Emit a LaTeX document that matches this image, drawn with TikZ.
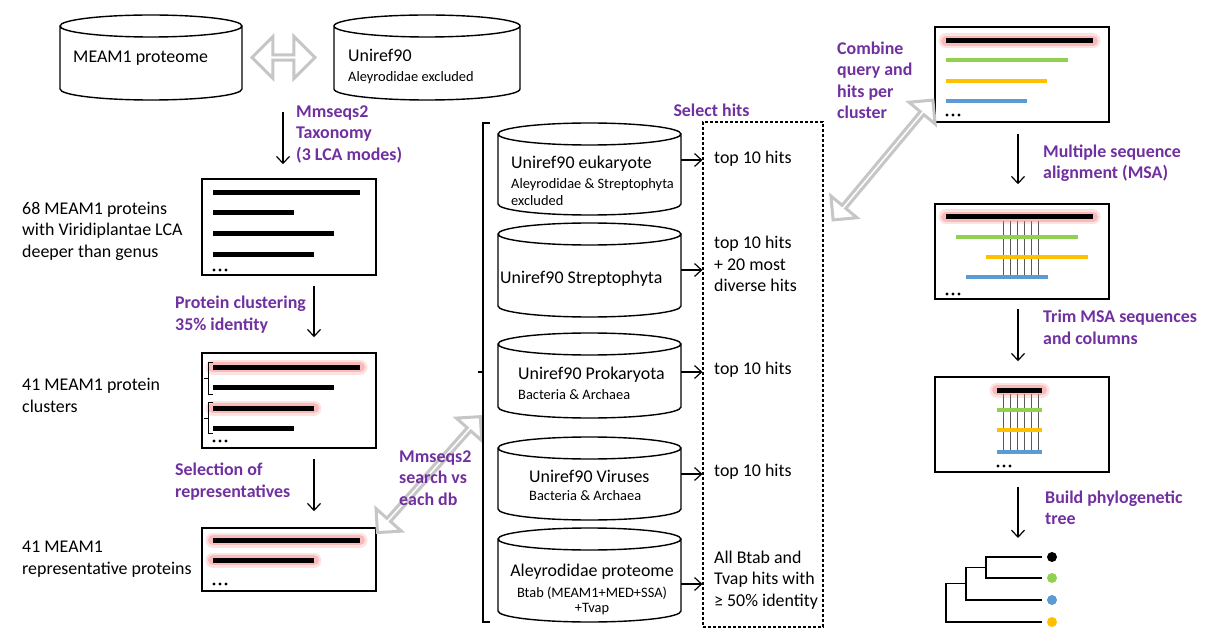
\documentclass[tikz,border=0pt]{standalone}
\usepackage{fontspec}
\setmainfont{Carlito}
\usetikzlibrary{arrows.meta,shapes.arrows,calc}

\definecolor{lblpurple}{RGB}{112,48,160}
\definecolor{seqgreen}{RGB}{146,208,80}
\definecolor{seqyellow}{RGB}{255,192,0}
\definecolor{seqblue}{RGB}{91,155,213}
\definecolor{glow}{RGB}{245,110,110}

\newcommand\mainsz{\fontsize{17.9}{21.5}\selectfont}
\newcommand\subsz{\fontsize{14.4}{17}\selectfont}

% database drum: name, cx, cy, width, height
\newcommand\dbcyl[5]{%
  \node[minimum width=#4, minimum height=#5, inner sep=0] (#1) at (#2,#3) {};
  \draw[dbline] (#2,#3-#5/2+11) ellipse[x radius=#4/2, y radius=11]
    (#2-#4/2,#3-#5/2+11) -- (#2-#4/2,#3+#5/2-11)
    arc[start angle=180, end angle=0, x radius=#4/2, y radius=11]
    -- (#2+#4/2,#3-#5/2+11);
}
\newcommand\moredots[2]{\foreach \i in {0,1,2} \fill (#1+6*\i,#2) circle[radius=1.6];}

\begin{document}
\begin{tikzpicture}[x=1pt,y=-1pt,
    dbline/.style={line width=1.4},
    listbox/.style={draw, line width=1.5, minimum width=174, inner sep=0},
    hitbox/.style={draw, line width=1.2, dash pattern=on 3pt off 2pt, inner sep=0},
    txt/.style={font=\mainsz, align=left, anchor=west, inner sep=0},
    lbl/.style={font=\mainsz\bfseries, text=lblpurple, align=left, anchor=west, inner sep=0},
    flow/.style={line width=1.2, -{Straight Barb[length=7pt,width=13pt]}},
    garrow/.style={double arrow, draw=gray!45, line width=3, fill=white, inner sep=0,
      double arrow tip angle=90, sloped},
    bar/.style={line width=5},
    cbar/.style={line width=4},
    hlbar/.style={bar,
      preaction={draw=glow, opacity=.2, line width=15, line cap=round},
      preaction={draw=glow, opacity=.35, line width=10, line cap=round}},
    gapline/.style={line width=1, gray!70!black},
    treeline/.style={line width=1.2},
    leaf/.style={circle, minimum size=10, inner sep=0}]
\useasboundingbox (0,0) rectangle (1207,628);

% input databases
\dbcyl{meam}{151}{57.5}{182}{85}
\dbcyl{uniall}{427}{57.5}{186}{85}
\node[txt] (meam-t) at (73,58) {MEAM1 proteome};
\node[txt] (uniall-t) at (348,67) {Uniref90\\[-1.5pt]\subsz Aleyrodidae excluded};
\path (meam.east) -- (uniall.west) node[garrow, pos=.45, minimum height=63, minimum width=42,
  double arrow head extend=11] (cmp) {};

% left column
\node[listbox, minimum height=96] (box1) at (289,227) {};
\node[listbox, minimum height=95] (box2) at (289,400.5) {};
\node[listbox, minimum height=63] (box3) at (289,559.5) {};

\draw[bar] (213,193) -- (360,193);
\draw[bar] (213,213) -- (294,213);
\draw[bar] (213,234) -- (334,234);
\draw[bar] (213,255) -- (314,255);
\moredots{214}{270}

\draw[hlbar] (213,367) -- (360,367);
\draw[bar] (213,387) -- (334,387);
\draw[hlbar] (213,408) -- (314,408);
\draw[bar] (213,428) -- (294,428);
\moredots{214}{441}
\draw[line width=1] (213,362) -- (208,362) -- (208,394) -- (213,394) (208,378) -- (204,378);
\draw[line width=1] (213,402) -- (208,402) -- (208,433) -- (213,433) (208,418) -- (204,418);

\draw[hlbar] (213,540) -- (360,540);
\draw[hlbar] (213,560) -- (314,560);
\moredots{214}{584}

\node[txt] (n68) at (22,231) {68 MEAM1 proteins\\with Viridiplantae LCA\\deeper than genus};
\node[txt] (n41c) at (22,395.5) {41 MEAM1 protein\\clusters};
\node[txt] (n41r) at (22,559) {41 MEAM1\\representative proteins};

\draw[flow, shorten <=12, shorten >=14] ([xshift=-6]box1.north |- uniall.south) -- ([xshift=-6]box1.north);
\draw[flow, shorten <=10, shorten >=15] ([xshift=25]box1.south) -- ([xshift=25]box2.north);
\draw[flow, shorten <=10, shorten >=16] ([xshift=25]box2.south) -- ([xshift=25]box3.north);

\node[lbl] (taxo) at (296,134) {Mmseqs2\\Taxonomy\\(3 LCA modes)};
\node[lbl] (clust) at (175,314.5) {Protein clustering\\35\% identity};
\node[lbl] (repsel) at (175,481.5) {Selection of\\representatives};

% search databases
\coordinate (srchA) at ([shift={(1,5)}]box3.north east);
\coordinate (srchB) at (480,417);
\path (srchA) -- (srchB) node[garrow, midway, minimum height=155, minimum width=34,
  double arrow head extend=9] (srch) {};
\node[lbl] (srch-t) at (399,478) {Mmseqs2\\search vs\\each db};

\draw[line width=1.3] (490,123) -- (483,123) -- (483,622) -- (490,622) (483,372) -- (478,372);

\dbcyl{euk}{589.5}{169}{183}{92}
\dbcyl{strep}{589.5}{270}{183}{94}
\dbcyl{prok}{589.5}{375.5}{183}{85}
\dbcyl{vir}{589.5}{478.5}{183}{83}
\dbcyl{aley}{589.5}{575}{183}{94}
\node[txt] (euk-t) at (511,181) {Uniref90 eukaryote\\[-1.5pt]\subsz Aleyrodidae \& Streptophyta\\[-4.5pt]\subsz excluded};
\node[txt] (strep-t) at (500,279) {Uniref90 Streptophyta};
\node[txt] (prok-t) at (518,383) {Uniref90 Prokaryota\\[-1.5pt]\subsz Bacteria \& Archaea};
\node[txt] (vir-t) at (529,485) {Uniref90 Viruses\\[-3.5pt]\subsz Bacteria \& Archaea};
\node[txt, align=center, anchor=center] (aley-t) at (592,589)
  {Aleyrodidae proteome\\[-0.5pt]\subsz Btab (MEAM1+MED+SSA)\\[-6.5pt]\subsz +Tvap};

% hit selection
\node[hitbox, minimum width=120, minimum height=505] (hits) at (763,374.5) {};
\node[lbl, anchor=center] (sel-t) at (711.5,110) {Select hits};
\draw[flow] ([yshift=9]euk.east) -- ([yshift=9]euk.east -| hits.west);
\draw[flow] (strep.east) -- (strep.east -| hits.west);
\draw[flow] ([yshift=3.5]prok.east) -- ([yshift=3.5]prok.east -| hits.west);
\draw[flow] ([yshift=4.5]vir.east) -- ([yshift=4.5]vir.east -| hits.west);
\draw[flow] ([yshift=-9]aley.east) -- ([yshift=-9]aley.east -| hits.west);
\node[txt] (h1) at (714,159) {top 10 hits};
\node[txt] (h2) at (714,264) {top 10 hits\\+ 20 most\\diverse hits};
\node[txt] (h3) at (714,370) {top 10 hits};
\node[txt] (h4) at (714,472) {top 10 hits};
\node[txt] (h5) at (714,580) {All Btab and\\Tvap hits with\\≥ 50\% identity};

% right column
\node[listbox, minimum height=95] (r1) at (1022,74.5) {};
\node[listbox, minimum height=95] (r2) at (1022,251.5) {};
\node[listbox, minimum height=95] (r3) at (1022,424.5) {};

\coordinate (cmbA) at (833,220);
\coordinate (cmbB) at (933,100);
\path (cmbA) -- (cmbB) node[garrow, midway, minimum height=156, minimum width=34,
  double arrow head extend=9] (cmb) {};
\node[lbl] (cmb-t) at (837,80.5) {Combine\\query and\\hits per\\cluster};

\draw[hlbar] (946,41) -- (1093,41);
\draw[cbar, seqgreen] (946,60) -- (1068,60);
\draw[cbar, seqyellow] (946,81) -- (1047,81);
\draw[cbar, seqblue] (946,101) -- (1027,101);
\moredots{947}{115}

\foreach \x in {1003,1010,1017,1024,1031,1038} \draw[gapline] (\x,221) -- (\x,275);
\draw[hlbar] (946,217) -- (1093,217);
\draw[cbar, seqgreen] (956,237) -- (1078,237);
\draw[cbar, seqyellow] (986,257) -- (1088,257);
\draw[cbar, seqblue] (966,277) -- (1048,277);
\moredots{947}{294}

\foreach \x in {1003,1010,1017,1024,1031,1038} \draw[gapline] (\x,394) -- (\x,450);
\draw[hlbar] (997,390) -- (1042,390);
\draw[cbar, seqgreen] (997,410) -- (1042,410);
\draw[cbar, seqyellow] (997,430) -- (1042,430);
\draw[cbar, seqblue] (997,452) -- (1042,452);
\moredots{998}{466}

\coordinate (treetop) at (1018,538);
\draw[flow, shorten <=11, shorten >=19] ([xshift=-4]r1.south) -- ([xshift=-4]r2.north);
\draw[flow, shorten <=9, shorten >=15] ([xshift=-4]r2.south) -- ([xshift=-4]r3.north);
\draw[flow, shorten <=14] ([xshift=-4]r3.south) -- (treetop);
\node[lbl] (msa-t) at (1043,163) {Multiple sequence\\alignment (MSA)};
\node[lbl] (trim-t) at (1043,327.5) {Trim MSA sequences\\and columns};
\node[lbl] (tree-t) at (1045,508) {Build phylogenetic\\tree};

% tree
\node[leaf, fill=black] (l1) at (1052,557) {};
\node[leaf, fill=seqgreen] (l2) at (1052,578) {};
\node[leaf, fill=seqblue] (l3) at (1052,600) {};
\node[leaf, fill=seqyellow] (l4) at (1052,622) {};
\draw[treeline] ([xshift=-5]l1.west) -| (986,578) -- ([xshift=-5]l2.west);
\draw[treeline] (986,567.5) -| (966,600) -- ([xshift=-5]l3.west);
\draw[treeline] (966,583.75) -| (946,622) -- ([xshift=-5]l4.west);
\end{tikzpicture}
\end{document}
